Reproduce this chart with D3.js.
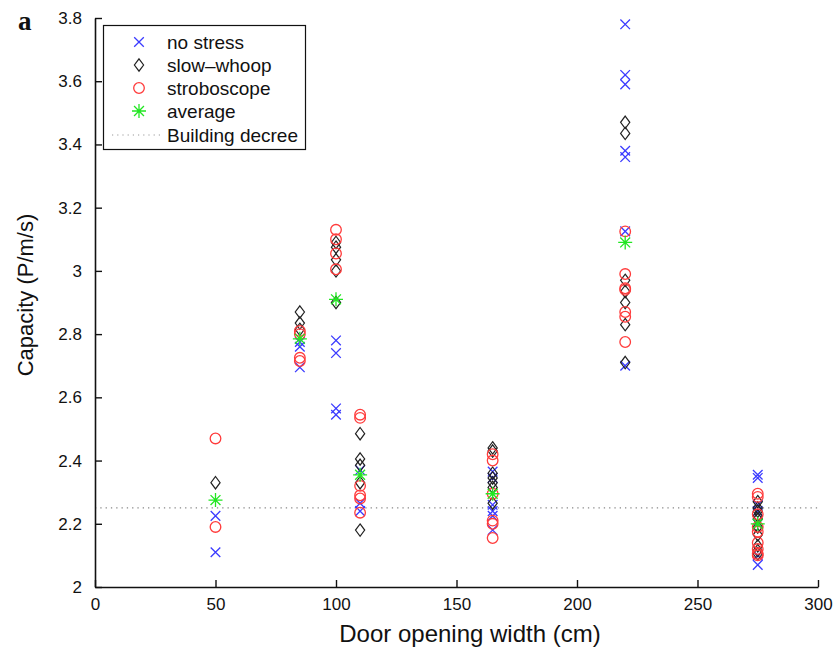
<!DOCTYPE html>
<html><head><meta charset="utf-8">
<script src="https://cdn.jsdelivr.net/npm/d3@7"></script>
<style>body{margin:0;background:#fff}svg{display:block}</style>
</head><body>
<svg id="c" width="835" height="651"></svg>
<script>
// Data: [door width (cm), capacity (P/m/s)]
const noStress = [
  [50,2.225],[50,2.11],
  [85,2.76],[85,2.695],[85,2.775],
  [100,2.78],[100,2.74],[100,2.565],[100,2.545],
  [110,2.37],[110,2.265],[110,2.24],
  [165,2.365],[165,2.345],[165,2.26],[165,2.24],[165,2.225],[165,2.18],
  [220,3.78],[220,3.62],[220,3.59],[220,3.38],[220,3.36],[220,3.125],[220,2.70],
  [275,2.355],[275,2.345],[275,2.26],[275,2.24],[275,2.20],[275,2.10],[275,2.07]
];
const slowWhoop = [
  [50,2.33],
  [85,2.87],[85,2.835],[85,2.815],
  [100,3.09],[100,3.075],[100,3.035],[100,3.00],[100,2.90],
  [110,2.485],[110,2.405],[110,2.385],[110,2.33],[110,2.18],
  [165,2.44],[165,2.43],[165,2.36],[165,2.345],[165,2.33],[165,2.315],[165,2.265],
  [220,3.47],[220,3.435],[220,2.97],[220,2.935],[220,2.90],[220,2.83],[220,2.71],
  [275,2.27],[275,2.25],[275,2.24],[275,2.225],[275,2.215],[275,2.19],[275,2.165],[275,2.13],[275,2.115],[275,2.105]
];
const stroboscope = [
  [50,2.47],[50,2.19],
  [85,2.81],[85,2.80],[85,2.725],[85,2.715],
  [100,3.13],[100,3.10],[100,3.055],[100,3.005],
  [110,2.545],[110,2.535],[110,2.32],[110,2.29],[110,2.28],[110,2.235],
  [165,2.42],[165,2.40],[165,2.295],[165,2.21],[165,2.20],[165,2.155],
  [220,3.125],[220,2.99],[220,2.945],[220,2.94],[220,2.87],[220,2.855],[220,2.775],
  [275,2.295],[275,2.285],[275,2.23],[275,2.19],[275,2.175],[275,2.14],[275,2.12],[275,2.105],[275,2.10]
];
const average = [
  [50,2.275],[85,2.785],[100,2.91],[110,2.355],[165,2.295],[220,3.09],[275,2.20]
];
const buildingDecree = 2.25;
const xTicks = [0,50,100,150,200,250,300];
const yTicks = [2,2.2,2.4,2.6,2.8,3,3.2,3.4,3.6,3.8];
const legendLabels = ["no stress","slow\u2013whoop","stroboscope","average","Building decree"];

const svg = d3.select("#c");
const L=95, R=818, T=18, B=587;
const x = d3.scaleLinear().domain([0,300]).range([L,R]);
const y = d3.scaleLinear().domain([2,3.8]).range([B,T]);
const font = "'Liberation Sans', Arial, Helvetica, sans-serif";

// Building decree line
svg.append("line").attr("x1",x(0)).attr("x2",x(300)).attr("y1",y(buildingDecree)).attr("y2",y(buildingDecree))
  .attr("stroke","#888").attr("stroke-width",1.3).attr("stroke-dasharray","1.3,4");

// Axes
const xAxis = d3.axisBottom(x).tickValues(xTicks).tickSizeInner(-7).tickSizeOuter(0).tickPadding(11).tickFormat(d3.format("d"));
const yAxis = d3.axisLeft(y).tickValues(yTicks).tickSizeInner(-7).tickSizeOuter(0).tickPadding(13).tickFormat(d=>d3.format("")(d));
const gx = svg.append("g").attr("transform",`translate(0,${B})`).call(xAxis);
const gy = svg.append("g").attr("transform",`translate(${L},0)`).call(yAxis);
[gx,gy].forEach(g=>{
  g.select(".domain").attr("stroke","#111").attr("stroke-width",1.6);
  g.selectAll(".tick line").attr("stroke","#111").attr("stroke-width",1.4);
  g.selectAll(".tick text").attr("font-family",font).attr("font-size",17).attr("fill","#111");
});
gx.selectAll(".tick text").attr("dy","0.72em");

// Axis titles
svg.append("text").attr("x",470).attr("y",642).attr("text-anchor","middle")
  .attr("font-family",font).attr("font-size",24).attr("fill","#111").text("Door opening width (cm)");
svg.append("text").attr("transform",`translate(33,295) rotate(-90)`).attr("text-anchor","middle")
  .attr("font-family",font).attr("font-size",22).attr("fill","#111").text("Capacity (P/m/s)");
svg.append("text").attr("x",18).attr("y",30).attr("font-family","'Liberation Serif','DejaVu Serif',serif")
  .attr("font-weight","bold").attr("font-size",27).attr("fill","#111").text("a");

// Marker paths
const sym = {
  x: s=>`M${-s},${-s}L${s},${s}M${-s},${s}L${s},${-s}`,
  d: (w,h)=>`M0,${-h}L${w},0L0,${h}L${-w},0Z`,
  star: s=>{const a=s*0.7071;return `M0,${-s}L0,${s}M${-s},0L${s},0M${-a},${-a}L${a},${a}M${-a},${a}L${a},${-a}`;}
};
const colX="#3b3bff", colD="#222", colO="#ff3b3b", colA="#22e622";
function drawX(g,px,py){g.append("path").attr("transform",`translate(${px},${py})`).attr("d",sym.x(4.8)).attr("stroke",colX).attr("stroke-width",1.3).attr("fill","none");}
function drawD(g,px,py){g.append("path").attr("transform",`translate(${px},${py})`).attr("d",sym.d(4.6,6.2)).attr("stroke",colD).attr("stroke-width",1.2).attr("fill","none");}
function drawO(g,px,py){g.append("circle").attr("cx",px).attr("cy",py).attr("r",5.3).attr("stroke",colO).attr("stroke-width",1.3).attr("fill","none");}
function drawA(g,px,py){g.append("path").attr("transform",`translate(${px},${py})`).attr("d",sym.star(7)).attr("stroke",colA).attr("stroke-width",1.3).attr("fill","none");}

const gp = svg.append("g");
noStress.forEach(d=>drawX(gp,x(d[0]),y(d[1])));
slowWhoop.forEach(d=>drawD(gp,x(d[0]),y(d[1])));
stroboscope.forEach(d=>drawO(gp,x(d[0]),y(d[1])));
average.forEach(d=>drawA(gp,x(d[0]),y(d[1])));

// Legend
const lg = svg.append("g");
lg.append("rect").attr("x",103.5).attr("y",25.5).attr("width",202).attr("height",124)
  .attr("fill","#fff").attr("stroke","#111").attr("stroke-width",1.2);
const rowY = [42,65,88,111,135];
const drawers=[drawX,drawD,drawO,drawA];
legendLabels.forEach((t,i)=>{
  if(i<4) drawers[i](lg,139,rowY[i]);
  else lg.append("line").attr("x1",112).attr("x2",160).attr("y1",rowY[i]).attr("y2",rowY[i])
    .attr("stroke","#999").attr("stroke-width",1.2).attr("stroke-dasharray","1.2,4");
  lg.append("text").attr("x",167).attr("y",rowY[i]).attr("dy","0.36em").attr("font-family",font)
    .attr("font-size",19).attr("fill","#111").text(t);
});
</script>
</body></html>
